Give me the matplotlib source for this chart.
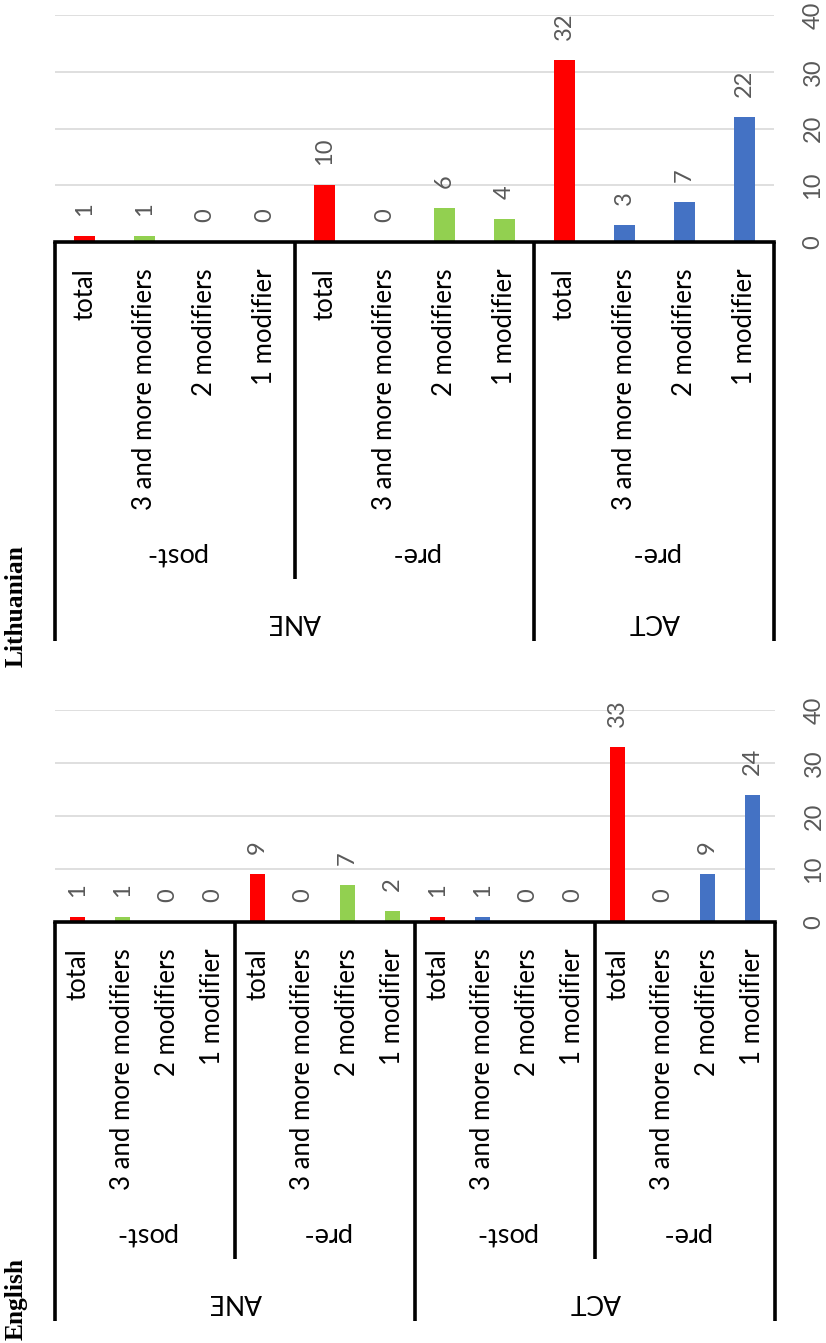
import matplotlib
matplotlib.use("Agg")
import matplotlib.pyplot as plt

# ---------------- data ----------------
leaf_labels = ['total', '3 and more modifiers', '2 modifiers', '1 modifier']

lt_groups = [('ANE', 'post-'), ('ANE', 'pre-'), ('ACT', 'pre-')]
lt_values = [1, 1, 0, 0,
             10, 0, 6, 4,
             32, 3, 7, 22]

en_groups = [('ANE', 'post-'), ('ANE', 'pre-'), ('ACT', 'post-'), ('ACT', 'pre-')]
en_values = [1, 1, 0, 0,
             9, 0, 7, 2,
             1, 1, 0, 0,
             33, 0, 9, 24]

value_ticks = [0, 10, 20, 30, 40]
panel_titles = ['Lithuanian', 'English']

# ---------------- style ----------------
RED = '#FF0000'
GREEN = '#92D050'
BLUE = '#4472C4'
GRAY = '#595959'
GRID = '#D9D9D9'
FONT = 'Lato'

W, H = 826, 1343
DPI = 100
fig = plt.figure(figsize=(W / DPI, H / DPI), dpi=DPI)

PX = 72.0 / DPI  # points per pixel


def draw_panel(ax, groups, values, ax_h_px):
    n = len(values)
    x = list(range(n))
    colors = []
    for i in range(n):
        top, _ = groups[i // 4]
        if i % 4 == 0:
            colors.append(RED)
        else:
            colors.append(GREEN if top == 'ANE' else BLUE)
    ax.bar(x, values, width=0.35, color=colors, zorder=3)
    ax.set_xlim(-0.5, n - 0.5)
    ax.set_ylim(0, 40)
    ax.set_yticks(value_ticks)
    ax.yaxis.grid(True, color=GRID, lw=1.2, zorder=0)
    ax.set_axisbelow(True)
    for s in ax.spines.values():
        s.set_visible(False)
    ax.set_xticks([])
    ax.yaxis.tick_right()
    ax.tick_params(axis='y', length=0, pad=39 * PX, labelsize=17,
                   labelcolor=GRAY, labelrotation=90)
    for t in ax.yaxis.get_major_ticks():
        t.label2.set_horizontalalignment('center')
        t.label2.set_verticalalignment('center')
        t.label2.set_fontfamily(FONT)

    # value labels
    for xi, v in zip(x, values):
        ax.annotate(str(v), (xi, v), xytext=(0, 20 * PX), textcoords='offset points',
                    rotation=90, rotation_mode='anchor', ha='left', va='center',
                    fontsize=17, color=GRAY, family=FONT)

    tr = ax.get_xaxis_transform()
    # baseline axis line
    ax.plot([-0.5, n - 0.5], [0, 0], color='black', lw=2.6, transform=tr,
            clip_on=False, zorder=4, solid_capstyle='projecting')

    # leaf labels
    for i in range(n):
        ax.annotate(leaf_labels[i % 4], (i, 0), xycoords=tr,
                    xytext=(0, -26 * PX), textcoords='offset points',
                    rotation=90, rotation_mode='anchor', ha='right', va='center',
                    fontsize=18.5, color='black', family=FONT)

    short_end = -337 / ax_h_px
    full_end = -399 / ax_h_px
    # group lines and labels
    ng = len(groups)
    for g in range(ng + 1):
        xb = g * 4 - 0.5
        if g == 0 or g == ng or groups[g][0] != groups[g - 1][0]:
            yend = full_end
        else:
            yend = short_end
        ax.plot([xb, xb], [0, yend], color='black', lw=2.6, transform=tr,
                clip_on=False, zorder=4, solid_capstyle='butt')
    for g, (top, sub) in enumerate(groups):
        ax.annotate(sub, (g * 4 + 1.5, 0), xycoords=tr,
                    xytext=(0, -313 * PX), textcoords='offset points',
                    rotation=180, ha='center', va='center',
                    fontsize=19.5, color='black', family=FONT)
    # top-level labels
    tops = []
    for g, (top, sub) in enumerate(groups):
        if tops and tops[-1][0] == top:
            tops[-1][2] = g
        else:
            tops.append([top, g, g])
    for top, g0, g1 in tops:
        xc = (g0 * 4 - 0.5 + g1 * 4 + 3.5) / 2
        ax.annotate(top, (xc, 0), xycoords=tr,
                    xytext=(0, -380 * PX), textcoords='offset points',
                    rotation=180, ha='center', va='center',
                    fontsize=19, color='black', family=FONT)


# top panel (Lithuanian)
ax1 = fig.add_axes([55 / W, 1 - 242 / H, 719 / W, 227 / H])
draw_panel(ax1, lt_groups, lt_values, 227)

# bottom panel (English)
ax2 = fig.add_axes([55 / W, 1 - 922 / H, 720 / W, 212 / H])
draw_panel(ax2, en_groups, en_values, 212)

fig.text(16 / W, 1 - 606 / H, panel_titles[0], rotation=90, ha='center', va='center',
         fontsize=18.4, fontweight='bold', family='Liberation Serif')
fig.text(16 / W, 1 - 1299 / H, panel_titles[1], rotation=90, ha='center', va='center',
         fontsize=18.4, fontweight='bold', family='Liberation Serif')

fig.savefig('out.png', dpi=DPI, facecolor='white')
